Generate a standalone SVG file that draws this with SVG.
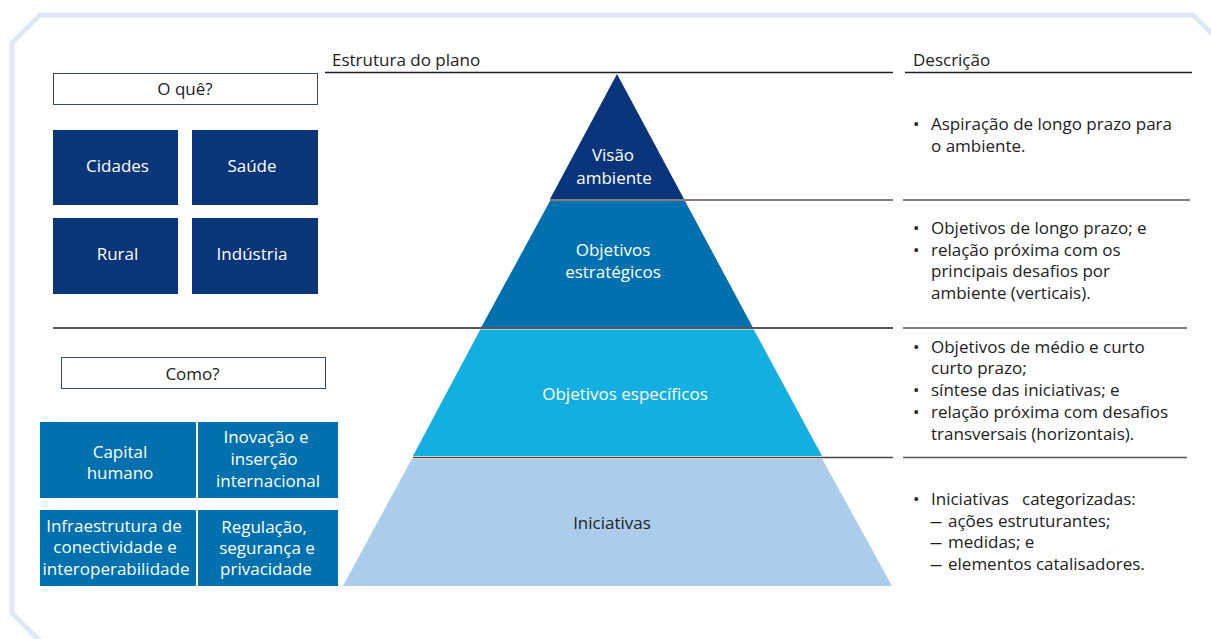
<svg xmlns="http://www.w3.org/2000/svg" width="1211" height="639" viewBox="0 0 1211 639">
<style>
text{font-family:"Open Sans","Noto Sans","Liberation Sans",sans-serif;font-size:17px;}
.w{fill:#ffffff;text-anchor:middle;}
.k{fill:#222222;}
.c{fill:#222222;text-anchor:middle;}
.navy{fill:#0b3579;}
.mid{fill:#0071ae;}
.sep{stroke:#555555;stroke-width:1.5;fill:none;}
.hdr{stroke:#222222;stroke-width:1.3;fill:none;}
</style>
<rect width="1211" height="639" fill="#ffffff"/>
<polyline points="1216,38 1193,15 40,15 12,43 12,613 40,641" fill="none" stroke="#dde9f6" stroke-width="5"/>

<g id="headers">
<text class="k" x="332" y="66">Estrutura do plano</text>
<text class="k" x="913" y="66">Descrição</text>
</g>

<g id="connectors">
<line class="hdr" x1="325" y1="72.5" x2="893" y2="72.5"/>
<line class="hdr" x1="905" y1="72.5" x2="1192" y2="72.5"/>
<line class="sep" x1="550" y1="200" x2="893" y2="200"/>
<line class="sep" x1="903" y1="200" x2="1190" y2="200"/>
<line x1="53" y1="328" x2="893" y2="328" stroke="#222222" stroke-width="1.4"/>
<line class="sep" x1="903" y1="328" x2="1187" y2="328"/>
<line x1="413" y1="457.5" x2="893" y2="457.5" stroke="#444444" stroke-width="1.6"/>
<line class="sep" x1="903" y1="457.5" x2="1187" y2="457.5"/>
</g>

<g id="tier-visao">
<polygon points="617,74 684,199 550,199" fill="#0b357a"/>
<text class="w" x="613" y="161">Visão</text>
<text class="w" x="614" y="184">ambiente</text>
</g>
<g id="tier-estrategicos">
<polygon points="550,201 685,201 752.6,327 481.4,327" fill="#0071ae"/>
<text class="w" x="613" y="256">Objetivos</text>
<text class="w" x="613" y="278">estratégicos</text>
</g>
<g id="tier-especificos">
<polygon points="480.3,329.5 753.7,329.5 822,456 413,456" fill="#13afe0"/>
<text class="w" x="625" y="400">Objetivos específicos</text>
</g>
<g id="tier-iniciativas">
<polygon points="411.8,459 822.2,459 892,586 343,586" fill="#abcdeb"/>
<text class="c" x="612" y="529">Iniciativas</text>
</g>

<g id="o-que">
<rect x="53.5" y="73.5" width="264" height="31" fill="#ffffff" stroke="#3b4777" stroke-width="1"/>
<text class="c" x="185" y="95">O quê?</text>
</g>
<g id="cidades">
<rect class="navy" x="53" y="130" width="125" height="75"/>
<text class="w" x="117.5" y="172">Cidades</text>
</g>
<g id="saude">
<rect class="navy" x="192" y="130" width="126" height="75"/>
<text class="w" x="252" y="172">Saúde</text>
</g>
<g id="rural">
<rect class="navy" x="53" y="218" width="125" height="76"/>
<text class="w" x="117.5" y="260">Rural</text>
</g>
<g id="industria">
<rect class="navy" x="192" y="218" width="126" height="76"/>
<text class="w" x="252" y="260">Indústria</text>
</g>

<g id="como">
<rect x="61.5" y="357.5" width="264" height="31" fill="#ffffff" stroke="#3b4777" stroke-width="1"/>
<text class="c" x="192.5" y="380">Como?</text>
</g>
<g id="capital">
<rect class="mid" x="40" y="422" width="156" height="76"/>
<text class="w" x="120" y="458">Capital</text>
<text class="w" x="120" y="479">humano</text>
</g>
<g id="inovacao">
<rect class="mid" x="198" y="422" width="140" height="76"/>
<text class="w" x="266" y="443">Inovação e</text>
<text class="w" x="264" y="465">inserção</text>
<text class="w" x="268" y="487">internacional</text>
</g>
<g id="infraestrutura">
<rect class="mid" x="40" y="510" width="156" height="76"/>
<text class="w" x="114" y="532">Infraestrutura de</text>
<text class="w" x="115" y="553">conectividade e</text>
<text class="w" x="116" y="575">interoperabilidade</text>
</g>
<g id="regulacao">
<rect class="mid" x="198" y="510" width="140" height="76"/>
<text class="w" x="264" y="533">Regulação,</text>
<text class="w" x="267" y="554">segurança e</text>
<text class="w" x="266" y="575">privacidade</text>
</g>

<g id="desc-visao">
<text class="k" x="913" y="130">•</text>
<text class="k" x="931" y="130">Aspiração de longo prazo para</text>
<text class="k" x="931" y="152">o ambiente.</text>
</g>
<g id="desc-estrategicos">
<text class="k" x="913" y="234">•</text>
<text class="k" x="931" y="234">Objetivos de longo prazo; e</text>
<text class="k" x="913" y="256">•</text>
<text class="k" x="931" y="256">relação próxima com os</text>
<text class="k" x="931" y="277">principais desafios por</text>
<text class="k" x="931" y="299">ambiente (verticais).</text>
</g>
<g id="desc-especificos">
<text class="k" x="913" y="353">•</text>
<text class="k" x="931" y="353">Objetivos de médio e curto</text>
<text class="k" x="931" y="374">curto prazo;</text>
<text class="k" x="913" y="396">•</text>
<text class="k" x="931" y="396">síntese das iniciativas; e</text>
<text class="k" x="913" y="418">•</text>
<text class="k" x="931" y="418">relação próxima com desafios</text>
<text class="k" x="931" y="440">transversais (horizontais).</text>
</g>
<g id="desc-iniciativas">
<text class="k" x="913" y="505">•</text>
<text class="k" x="931" y="505" xml:space="preserve">Iniciativas   categorizadas:</text>
<text class="k" x="930" y="527" textLength="12" lengthAdjust="spacingAndGlyphs">—</text>
<text class="k" x="948" y="527">ações estruturantes;</text>
<text class="k" x="930" y="548" textLength="12" lengthAdjust="spacingAndGlyphs">—</text>
<text class="k" x="948" y="548">medidas; e</text>
<text class="k" x="930" y="570" textLength="12" lengthAdjust="spacingAndGlyphs">—</text>
<text class="k" x="948" y="570">elementos catalisadores.</text>
</g>
</svg>
